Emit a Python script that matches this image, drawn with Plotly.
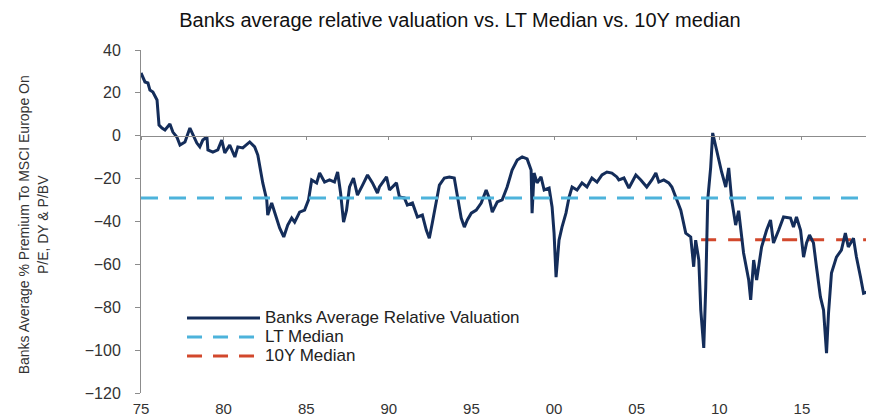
import plotly.graph_objects as go

# ---- data ----
years = [1975.0, 1975.24, 1975.42, 1975.54, 1975.72, 1975.97, 1976.09, 1976.27, 1976.45, 1976.75,
         1976.93, 1977.17, 1977.36, 1977.66, 1977.96, 1978.14, 1978.38, 1978.56, 1978.74, 1978.99,
         1979.05, 1979.35, 1979.65, 1979.89, 1980.07, 1980.37, 1980.68, 1980.86, 1981.16, 1981.58,
         1981.88, 1982.07, 1982.37, 1982.61, 1982.67, 1982.91, 1983.21, 1983.39, 1983.64, 1983.88,
         1984.12, 1984.30, 1984.60, 1984.90, 1985.14, 1985.33, 1985.63, 1985.81, 1986.11, 1986.41,
         1986.71, 1986.90, 1987.08, 1987.26, 1987.44, 1987.62, 1987.86, 1988.10, 1988.41, 1988.71,
         1989.01, 1989.31, 1989.43, 1989.86, 1990.04, 1990.46, 1990.64, 1990.94, 1991.12, 1991.43,
         1991.73, 1992.03, 1992.27, 1992.45, 1992.63, 1992.87, 1993.06, 1993.36, 1993.66, 1993.96,
         1994.14, 1994.38, 1994.57, 1994.75, 1994.99, 1995.29, 1995.59, 1995.89, 1996.07, 1996.26,
         1996.56, 1996.86, 1997.16, 1997.46, 1997.77, 1998.07, 1998.37, 1998.61, 1998.67, 1998.79,
         1998.97, 1999.21, 1999.40, 1999.70, 1999.88, 2000.00, 2000.12, 2000.30, 2000.48, 2000.72,
         2000.91, 2001.09, 2001.39, 2001.69, 2001.99, 2002.29, 2002.60, 2002.90, 2003.20, 2003.50,
         2003.80, 2003.92, 2004.23, 2004.53, 2004.95, 2005.25, 2005.61, 2005.92, 2006.16, 2006.34,
         2006.64, 2006.94, 2007.13, 2007.37, 2007.67, 2007.97, 2008.27, 2008.45, 2008.57, 2008.76,
         2008.88, 2009.06, 2009.18, 2009.30, 2009.48, 2009.60, 2009.78, 2009.96, 2010.14, 2010.39,
         2010.57, 2010.75, 2010.99, 2011.17, 2011.47, 2011.78, 2011.90, 2012.08, 2012.26, 2012.56,
         2012.86, 2013.10, 2013.28, 2013.59, 2013.89, 2014.31, 2014.49, 2014.67, 2014.92, 2015.10,
         2015.28, 2015.46, 2015.70, 2015.88, 2016.12, 2016.31, 2016.49, 2016.61, 2016.79, 2017.09,
         2017.39, 2017.63, 2017.81, 2018.12, 2018.30, 2018.55, 2018.73, 2018.90]

valuation = [29.3, 25.1, 24.6, 21.3, 20.4, 16.7, 5.0, 3.6, 2.7, 5.5,
             1.7, -0.6, -4.3, -2.9, 3.6, 0.3, -3.4, -5.2, -2.0, -0.6,
             -6.6, -7.6, -6.6, -2.0, -8.0, -4.3, -9.9, -5.2, -5.7, -2.9,
             -5.2, -9.0, -22.0, -29.9, -37.0, -31.4, -38.4, -43.0, -47.2, -41.7,
             -38.4, -40.3, -35.6, -34.7, -29.9, -20.6, -22.0, -17.4, -21.6, -20.6,
             -21.6, -16.9, -26.7, -40.3, -34.7, -23.9, -19.7, -27.7, -23.0, -18.3,
             -22.0, -26.7, -23.9, -19.2, -25.3, -22.0, -28.6, -29.0, -32.3, -31.4,
             -37.9, -37.0, -44.1, -47.8, -40.7, -29.9, -23.0, -19.7, -19.2, -19.7,
             -28.6, -38.4, -42.6, -39.3, -36.1, -34.7, -31.4, -25.3, -29.0, -35.6,
             -30.9, -29.9, -23.9, -16.0, -11.3, -9.9, -10.8, -16.0, -36.1, -17.4,
             -22.0, -19.2, -25.3, -24.4, -33.2, -45.4, -66.0, -48.7, -42.6, -36.1,
             -28.6, -23.9, -25.3, -22.0, -23.9, -19.7, -21.6, -18.3, -16.9, -17.4,
             -19.2, -20.6, -19.7, -24.4, -18.3, -20.6, -23.9, -20.6, -17.4, -21.6,
             -20.6, -22.0, -23.9, -28.6, -34.7, -45.4, -47.2, -61.1, -48.7, -58.0,
             -81.3, -99.0, -70.6, -29.9, -14.6, 1.3, -5.2, -11.3, -16.9, -23.9,
             -15.0, -29.9, -41.7, -35.0, -54.7, -67.3, -76.6, -58.0, -67.3, -51.9,
             -44.1, -39.3, -50.0, -44.1, -37.9, -38.4, -42.6, -37.9, -44.1, -56.6,
             -50.0, -46.3, -50.0, -61.1, -75.2, -81.3, -101.4, -82.7, -64.0, -56.6,
             -53.3, -45.4, -51.9, -47.8, -56.6, -66.0, -73.5, -73.0]

lt_median = -29.0
ten_y_median = -48.5
lt_span = [1975.0, 2019.0]
ten_y_span = [2008.9, 2019.0]

x_tick_years = [1975, 1980, 1985, 1990, 1995, 2000, 2005, 2010, 2015]
x_tick_labels = ["75", "80", "85", "90", "95", "00", "05", "10", "15"]
y_ticks = [40, 20, 0, -20, -40, -60, -80, -100, -120]

series_names = ["Banks Average Relative Valuation", "LT Median", "10Y Median"]
NAVY = "#142d5a"
LIGHT_BLUE = "#4db3db"
RED = "#d2482c"
AXIS_GREY = "#8c8c8c"
FONT = "Liberation Sans, Arial, sans-serif"

# the page body adds an 8px offset; the figure is sized to fit the 874x418 window
W, H = 866, 410

fig = go.Figure()

fig.add_trace(go.Scatter(
    x=lt_span, y=[lt_median, lt_median], mode="lines", xaxis="x2",
    line=dict(color=LIGHT_BLUE, width=3, dash="17px,11px"),
    name=series_names[1], showlegend=False, hoverinfo="skip"))
fig.add_trace(go.Scatter(
    x=ten_y_span, y=[ten_y_median, ten_y_median], mode="lines",
    line=dict(color=RED, width=3, dash="15px,12px"),
    name=series_names[2], showlegend=False, hoverinfo="skip"))
fig.add_trace(go.Scatter(
    x=years, y=valuation, mode="lines",
    line=dict(color=NAVY, width=3),
    name=series_names[0], showlegend=False))

# manual legend (long line samples as in the reference)
legend_rows = [(0.2187, NAVY, "solid"), (0.1633, LIGHT_BLUE, "15px,11px"), (0.1079, RED, "15px,11px")]
for (yy, col, dsh), name in zip(legend_rows, series_names):
    fig.add_shape(type="line", xref="paper", yref="paper", x0=0.0633, x1=0.1637, y0=yy, y1=yy,
                  line=dict(color=col, width=3, dash=dsh))
    fig.add_annotation(xref="paper", yref="paper", x=0.168, y=yy, xanchor="left", yanchor="middle",
                       text=name, showarrow=False, font=dict(family=FONT, size=17, color="#222222"))

fig.add_annotation(xref="paper", yref="paper", x=-0.148, y=0.49, xanchor="center", yanchor="middle",
                   textangle=-90, showarrow=False, align="center",
                   text="Banks Average % Premium To MSCI Europe On<br>P/E, DY & P/BV",
                   font=dict(family=FONT, size=14, color="#333333"))

fig.update_layout(
    width=W, height=H,
    margin=dict(l=133, r=6, t=42, b=25, autoexpand=False),
    paper_bgcolor="white", plot_bgcolor="white",
    showlegend=False,
    title=dict(text="Banks average relative valuation vs. LT Median vs. 10Y median",
               x=452 / W, xref="container", xanchor="center",
               y=1 - 12 / H, yref="container", yanchor="middle",
               font=dict(family=FONT, size=20, color="#111111")),
    xaxis=dict(range=[1975, 2019], tickvals=x_tick_years, ticktext=x_tick_labels,
               showgrid=False, zeroline=False, showline=False, automargin=False,
               ticks="outside", ticklen=2, tickcolor="rgba(0,0,0,0)",
               tickfont=dict(family=FONT, size=15, color="#333333")),
    xaxis2=dict(range=[1975, 2019], overlaying="x", anchor="free", position=0.75, side="bottom",
                tickvals=x_tick_years, showticklabels=False, showgrid=False, zeroline=False,
                showline=True, linecolor=AXIS_GREY, linewidth=1, automargin=False,
                ticks="outside", ticklen=3, tickcolor=AXIS_GREY),
    yaxis=dict(range=[-120, 40], tickvals=y_ticks, showgrid=False, zeroline=False,
               showline=True, linecolor=AXIS_GREY, linewidth=1, automargin=False,
               ticks="outside", ticklen=5, tickcolor=AXIS_GREY, ticklabelstandoff=11,
               tickfont=dict(family=FONT, size=16, color="#333333")),
)

fig.write_html("out.html")
